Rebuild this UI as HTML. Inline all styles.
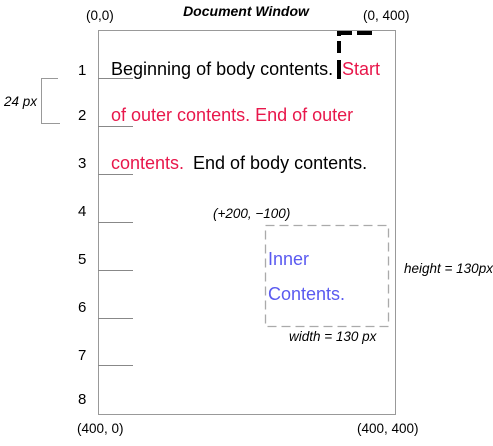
<!DOCTYPE html>
<html><head><meta charset="utf-8"><style>
body{margin:0;width:493px;height:441px;background:#fff;overflow:hidden;font-family:"Liberation Sans",sans-serif}
</style></head><body>
<svg width="493" height="441" xmlns="http://www.w3.org/2000/svg" font-family="Liberation Sans, sans-serif">
<rect x="98.5" y="30.5" width="297" height="384" fill="none" stroke="#999" stroke-width="1"/>
<g stroke="#888" stroke-width="1">
<line x1="98" y1="78.5" x2="133" y2="78.5"/>
<line x1="98" y1="126.5" x2="133" y2="126.5"/>
<line x1="98" y1="174.5" x2="133" y2="174.5"/>
<line x1="98" y1="222.5" x2="133" y2="222.5"/>
<line x1="98" y1="270.5" x2="133" y2="270.5"/>
<line x1="98" y1="318.5" x2="133" y2="318.5"/>
<line x1="98" y1="365.5" x2="133" y2="365.5"/>
</g>
<polyline points="58,78.5 41.5,78.5 41.5,123.5 60,123.5" fill="none" stroke="#999"/>
<text x="4" y="106" font-size="13.5" font-style="italic">24 px</text>
<g font-size="15" fill="#000">
<text x="78" y="75">1</text><text x="78" y="120">2</text><text x="78" y="168">3</text>
<text x="78" y="216">4</text><text x="78" y="264">5</text><text x="78" y="312">6</text>
<text x="78" y="360">7</text><text x="78" y="404">8</text>
</g>
<text x="246" y="16" font-size="14" font-weight="bold" font-style="italic" text-anchor="middle">Document Window</text>
<g font-size="13.5">
<text x="86" y="20">(0,0)</text>
<text x="363" y="20">(0, 400)</text>
<text x="77" y="433">(400, 0)</text>
<text x="357" y="433">(400, 400)</text>
</g>
<g font-size="13.5" font-style="italic">
<text x="213" y="218">(+200, −100)</text>
<text x="404" y="273">height = 130px</text>
<text x="289" y="341">width = 130 px</text>
</g>
<g fill="#000">
<rect x="337" y="31" width="15" height="4"/><rect x="357" y="31" width="15" height="4"/>
<rect x="337" y="31" width="4" height="5"/><rect x="337" y="41" width="4" height="12"/><rect x="337" y="60" width="4" height="19"/>
</g>
<g font-size="18">
<text x="111" y="75" fill="#000">Beginning of body contents.</text>
<text x="342" y="75" fill="#e8174b">Start</text>
<text x="111" y="121" fill="#e8174b">of outer contents. End of outer</text>
<text x="111" y="169" fill="#e8174b">contents.</text>
<text x="193" y="169" fill="#000">End of body contents.</text>
<text x="268" y="265" fill="#5a5af0">Inner</text>
<text x="268" y="300" fill="#5a5af0">Contents.</text>
</g>
<rect x="265.5" y="225.5" width="123" height="101" fill="none" stroke="#aaa" stroke-width="1.3" stroke-dasharray="9,5"/>
</svg>
</body></html>
